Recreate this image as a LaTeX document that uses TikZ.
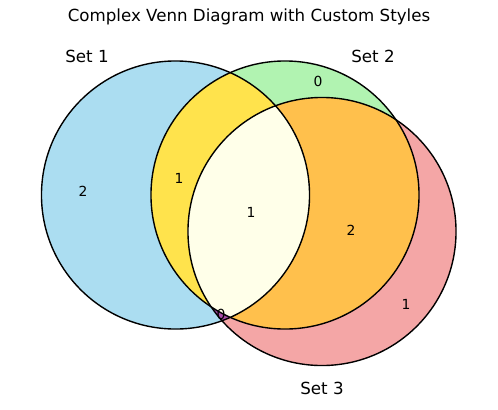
\documentclass[tikz,border=0pt]{standalone}
\usepackage{fontspec}
\setmainfont{DejaVu Sans}
\usetikzlibrary{positioning}
\definecolor{vblue}{HTML}{ABDDF1}
\definecolor{vgreen}{HTML}{B1F3B1}
\definecolor{vred}{HTML}{F4A6A6}
\definecolor{vgold}{HTML}{FFE34C}
\definecolor{vorange}{HTML}{FFC04C}
\definecolor{vpurple}{HTML}{A64CA6}
\definecolor{vcore}{HTML}{FFFFE9}
\def\vr{96.5pt}

\begin{document}
\begin{tikzpicture}[x=0.72pt, y=-0.72pt,
  setlabel/.style={font=\fontsize{12}{14}\selectfont},
  count/.style={font=\fontsize{10}{12}\selectfont},
  rim/.style={draw=black, line width=1pt}]
\useasboundingbox (0,0) rectangle (498,409);
\coordinate (c1) at (175.5,195);
\coordinate (c2) at (285,195);
\coordinate (c3) at (322,231.5);
% single regions
\fill[vblue] (c1) circle[radius=\vr];
\fill[vgreen] (c2) circle[radius=\vr];
\fill[vred] (c3) circle[radius=\vr];
% pairwise overlaps
\begin{scope}
  \clip (c1) circle[radius=\vr];
  \fill[vgold] (c2) circle[radius=\vr];
\end{scope}
\begin{scope}
  \clip (c2) circle[radius=\vr];
  \fill[vorange] (c3) circle[radius=\vr];
\end{scope}
\begin{scope}
  \clip (c1) circle[radius=\vr];
  \fill[vpurple] (c3) circle[radius=\vr];
\end{scope}
% triple overlap
\begin{scope}
  \clip (c1) circle[radius=\vr];
  \clip (c2) circle[radius=\vr];
  \fill[vcore] (c3) circle[radius=\vr];
\end{scope}
\foreach \c in {c1,c2,c3}
  \draw[rim] (\c) circle[radius=\vr];
\node[setlabel] (title) at (249,17) {Complex Venn Diagram with Custom Styles};
\node[setlabel] (set1) at (87,56) {Set 1};
\node[setlabel] (set2) at (373,56) {Set 2};
\node[setlabel] (set3) at (322,388) {Set 3};
\node[count] (n100) at (83,191) {2};
\node[count] (n010) at (318,81) {0};
\node[count] (n001) at (406,304) {1};
\node[count] (n110) at (179,178) {1};
\node[count] (n011) at (351,230) {2};
\node[count] (n111) at (251,212) {1};
\node[count] (n101) at (221,314) {0};
\end{tikzpicture}
\end{document}
